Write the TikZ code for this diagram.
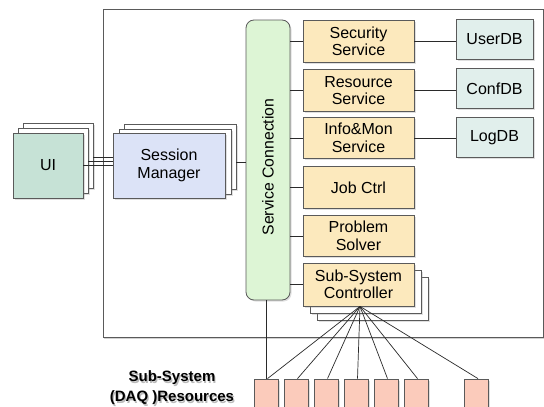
\documentclass[tikz,border=0pt]{standalone}
\usepackage{fontspec}
\setmainfont{Liberation Sans}
\usetikzlibrary{shadows}
\definecolor{uicol}{HTML}{C6E2D6}
\definecolor{smcol}{HTML}{DCE3F7}
\definecolor{sccol}{HTML}{DDF5D5}
\definecolor{svcol}{HTML}{FCE9BD}
\definecolor{dbcol}{HTML}{E1EFEC}
\definecolor{pkcol}{HTML}{FBCBBB}
\definecolor{edgecol}{HTML}{5A5A5A}
\definecolor{linecol}{HTML}{2A2A2A}
\tikzset{
  box/.style={draw=edgecol, line width=0.8pt, inner sep=0pt, align=center,
    font=\fontsize{16}{17.5}\selectfont,
    drop shadow={shadow xshift=1.5pt, shadow yshift=-1.5pt, opacity=0.25}},
  bsize/.style 2 args={minimum width=#1pt, minimum height=#2pt},
  copybox/.style={box, fill=white},
  svbox/.style={box, fill=svcol, bsize={111}{41.5}},
  dbbox/.style={box, fill=dbcol, bsize={77}{40}},
  pkbox/.style={box, fill=pkcol, bsize={24}{33}},
  conn/.style={draw=linecol, line width=0.8pt},
  lbl/.style={font=\bfseries\fontsize{15}{20}\selectfont, align=center, inner sep=0pt}
}
\begin{document}
\begin{tikzpicture}[x=1pt, y=-1pt]
\useasboundingbox (0,0) rectangle (544,407);
\clip (0,0) rectangle (544,407);
\fill[white] (0,0) rectangle (544,407);
% outer frame
\node[draw=edgecol, line width=0.8pt, fill=white, minimum width=440pt, minimum height=328pt,
  drop shadow={shadow xshift=1pt, shadow yshift=-2pt, opacity=0.35}] (frame) at (323,173) {};
% UI stack
\node[copybox, bsize={70}{65}] (ui3) at (58,155.5) {};
\node[copybox, bsize={70}{65}] (ui2) at (53,160.5) {};
\node[box, fill=uicol, bsize={70}{65}] (ui) at (48,165.5) {UI};
% Session Manager stack
\node[copybox, bsize={112}{65}] (sm3) at (180,156.5) {};
\node[copybox, bsize={112}{65}] (sm2) at (175,161.5) {};
\node[box, fill=smcol, bsize={112}{65}] (sm) at (169,165.5) {Session\\Manager};
% Service connection
\node[box, fill=sccol, bsize={44}{280}, rounded corners=8pt] (sc) at (268,160) {};
\node[rotate=90, font=\fontsize{15.8}{17}\selectfont, inner sep=0pt] (sctext) at (268,167) {Service Connection};
% services
\node[svbox] (sec) at (358.5,41.5) {Security\\Service};
\node[svbox] (res) at (358.5,90.5) {Resource\\Service};
\node[svbox] (inf) at (358.5,138) {Info\&Mon\\Service};
\node[svbox] (job) at (358.5,187.5) {Job Ctrl};
\node[svbox] (prob) at (358.5,236) {Problem\\Solver};
\node[copybox, bsize={111}{43}] (ssc3) at (372.5,298.5) {};
\node[copybox, bsize={111}{43}] (ssc2) at (365.5,291.5) {};
\node[box, fill=svcol, bsize={111}{43}] (ssc) at (358.5,284.5) {Sub-System\\Controller};
% DBs
\node[dbbox] (udb) at (494.5,39) {UserDB};
\node[dbbox] (cdb) at (494.5,88.5) {ConfDB};
\node[dbbox] (ldb) at (494.5,137.5) {LogDB};
% resources
\node[pkbox] (r1) at (266,395.5) {};
\node[pkbox] (r2) at (296,395.5) {};
\node[pkbox] (r3) at (326,395.5) {};
\node[pkbox] (r4) at (356,395.5) {};
\node[pkbox] (r5) at (386,395.5) {};
\node[pkbox] (r6) at (416,395.5) {};
\node[pkbox] (r7) at (476.5,395.5) {};
% label
\node[lbl, text=black!45, opacity=0.6] (lblsh) at (173.2,389.2) {Sub-System\\(DAQ )Resources};
\node[lbl] (lbl) at (172,388) {Sub-System\\(DAQ )Resources};
% connectors
\coordinate (y1) at (0,157);
\coordinate (y2) at (0,161);
\coordinate (y3) at (0,165);
\coordinate (y4) at (0,162);
\draw[conn] (ui3.east |- y1) -- (sm.west |- y1);
\draw[conn] (ui2.east |- y2) -- (sm.west |- y2);
\draw[conn] (ui.east |- y3) -- (sm.west |- y3);
\draw[conn] (sm3.east |- y4) -- (sc.west |- y4);
\foreach \s in {sec,res,inf,job,prob,ssc}{
  \draw[conn] (\s.west) -- (\s.west -| sc.east);
}
\draw[conn] (sec.east) -- (udb.west |- sec.east);
\draw[conn] (res.east) -- (cdb.west |- res.east);
\draw[conn] (inf.east) -- (ldb.west |- inf.east);
\draw[conn] (sc.south -| r1.north) -- (r1.north);
\coordinate (fan) at ([xshift=1.5pt]ssc.south);
\foreach \r in {r1,r2,r3,r4,r5,r6,r7}{
  \draw[conn, line width=0.7pt] (fan) -- ([xshift=1.5pt]\r.north);
}
\end{tikzpicture}
\end{document}
